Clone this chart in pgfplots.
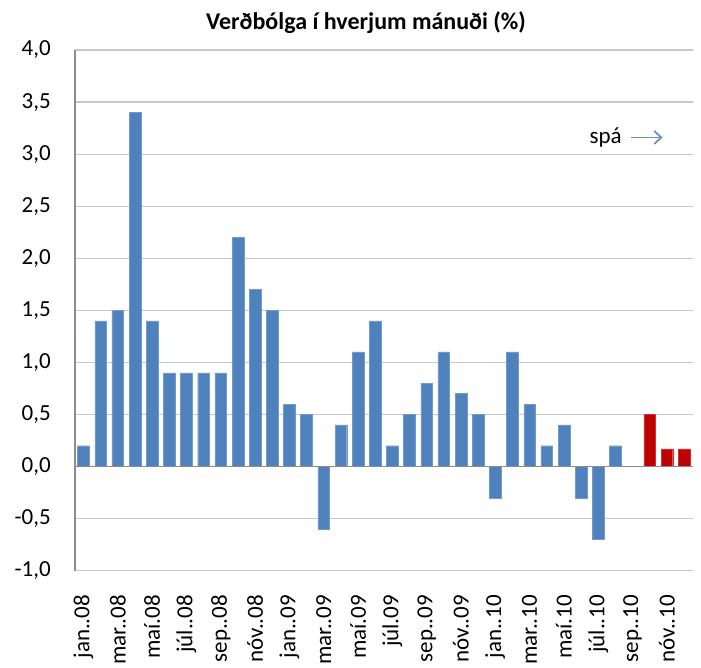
\documentclass[border=0pt]{standalone}
\usepackage{pgfplots}
\pgfplotsset{compat=1.18}
\usetikzlibrary{arrows.meta}
\usepackage{fontspec}
\setmainfont{Carlito}
\definecolor{barblue}{HTML}{4F81BD}
\definecolor{barred}{HTML}{C00000}
\definecolor{gridgray}{HTML}{C8C8C8}
\definecolor{axgray}{HTML}{8C8C8C}
\definecolor{arrowblue}{HTML}{6A8FC8}
\begin{document}
\begin{tikzpicture}[x=1bp,y=1bp]
\useasboundingbox (0,0) rectangle (701,668);
\node[font=\fontsize{24bp}{28bp}\selectfont\bfseries, anchor=base, inner sep=0pt] at (366,638.5) {Verðbólga í hverjum mánuði (\%)};
\begin{axis}[
  at={(74.9bp,97.3bp)}, anchor=south west,
  scale only axis, width=617.7bp, height=520.7bp,
  xmin=-0.5, xmax=35.5, ymin=-1, ymax=4,
  ytick={-1,-0.5,...,4},
  xtick={0,2,...,34},
  xticklabels={jan..08,mar..08,maí.08,júl..08,sep..08,nóv..08,jan..09,mar..09,maí.09,júl.09,sep..09,nóv..09,jan..10,mar..10,maí.10,júl..10,sep..10,nóv..10},
  xticklabel style={rotate=90, anchor=east, inner sep=0pt, font=\fontsize{23bp}{26bp}\selectfont},
  xticklabel shift={24bp},
  yticklabel style={anchor=east, inner sep=0pt, xshift=-24bp, font=\fontsize{23bp}{26bp}\selectfont},
  /pgf/number format/.cd, fixed, fixed zerofill, precision=1, use comma, assume math mode=true,
  /pgfplots/.cd,
  major tick length=0pt,
  axis line style={draw=none},
  ymajorgrids, grid style={gridgray, line width=1.2bp},
  clip=false,
]
\draw[axgray, line width=1.5bp] (axis cs:-0.5,-1) -- (axis cs:-0.5,4);
\addplot[ybar, bar width=11.7bp, bar shift=0pt, fill=barblue, draw=barblue!80!white] coordinates {
(0,0.2) (1,1.4) (2,1.5) (3,3.4) (4,1.4) (5,0.9) (6,0.9) (7,0.9) (8,0.9) (9,2.2)
(10,1.7) (11,1.5) (12,0.6) (13,0.5) (14,-0.6) (15,0.4) (16,1.1) (17,1.4) (18,0.2) (19,0.5)
(20,0.8) (21,1.1) (22,0.7) (23,0.5) (24,-0.3) (25,1.1) (26,0.6) (27,0.2) (28,0.4) (29,-0.3)
(30,-0.7) (31,0.2)
};
\addplot[ybar, bar width=11.7bp, bar shift=0pt, fill=barred, draw=barred!80!white] coordinates {
(33,0.5) (34,0.17) (35,0.17)
};
\draw[axgray, line width=1.5bp] (axis cs:-0.5,0) -- (axis cs:35.5,0);
\node[font=\fontsize{23bp}{28bp}\selectfont, anchor=east, inner sep=0pt] at (axis cs:31.38,3.16) {spá};
\draw[-{Straight Barb[length=7bp,width=13bp]}, arrowblue, line width=1.8bp] (axis cs:31.9,3.16) -- (axis cs:33.75,3.16);
\end{axis}
\end{tikzpicture}
\end{document}
